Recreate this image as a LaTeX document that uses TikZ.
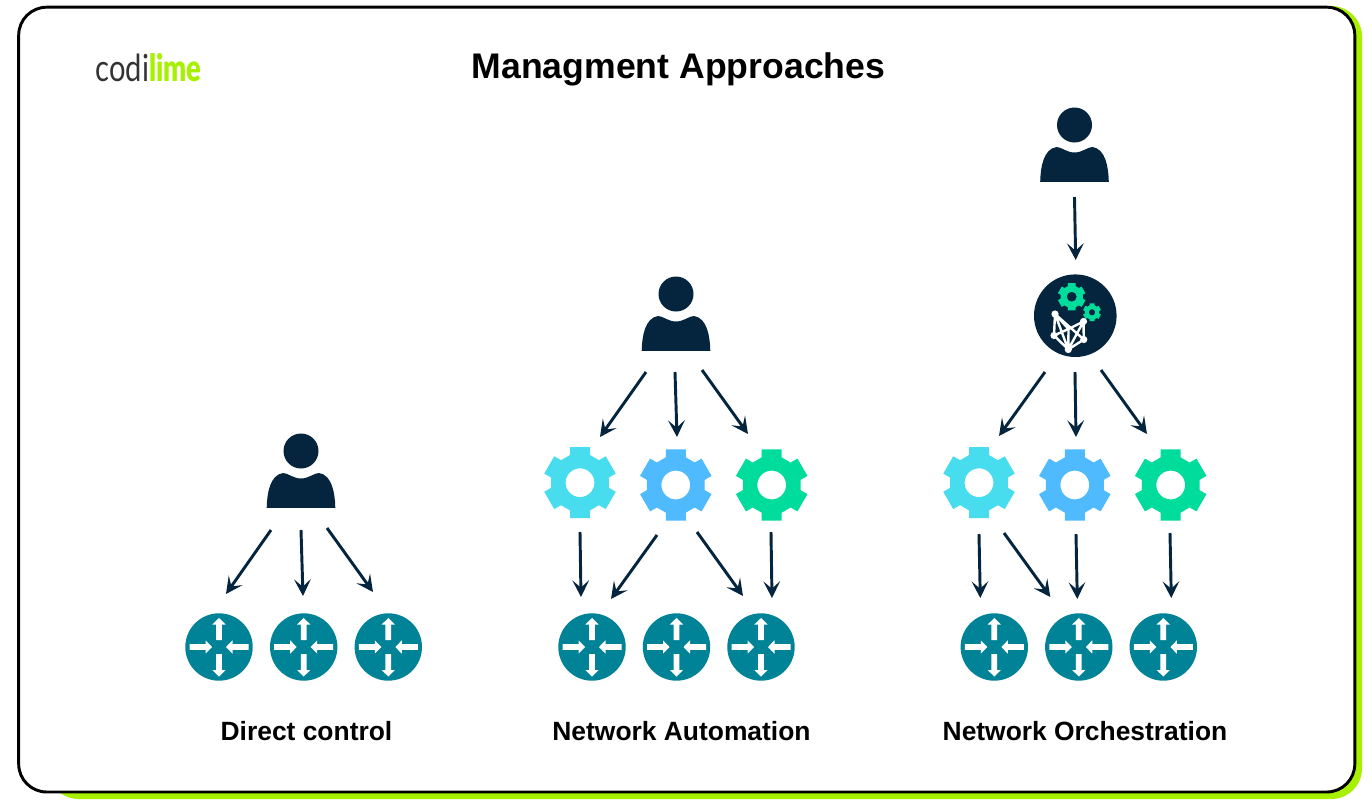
\documentclass[tikz,border=0pt]{standalone}
\usepackage{fontspec}
\setmainfont{Liberation Sans}
\newfontfamily\logofont{Lato}
\newfontfamily\logoheavy{Lato Black}
\usetikzlibrary{arrows.meta}
\definecolor{navy}{HTML}{05243D}
\definecolor{limeg}{HTML}{A6F000}
\definecolor{routerc}{HTML}{008396}
\definecolor{gearcyan}{HTML}{47DCEE}
\definecolor{gearblue}{HTML}{50BAFF}
\definecolor{geargreen}{HTML}{00DC9C}
\definecolor{logodark}{HTML}{333333}
\tikzset{
  conn/.style={draw=navy,line width=2.2pt,-{Stealth[length=12.5pt,width=12.5pt,inset=5.5pt]}},
  frame/.style={draw=black,line width=2.2pt,rounded corners=21pt,fill=white},
  shadowbox/.style={fill=limeg,rounded corners=23pt},
  heading/.style={font=\bfseries\fontsize{26.7}{30}\selectfont,inner sep=0pt,text=black},
  caption/.style={font=\bfseries\fontsize{19.8}{24}\selectfont,inner sep=0pt,text=black},
  meshline/.style={draw=white,line width=1.8pt},
  meshdot/.style={fill=white}
}
\newcommand{\gearshape}[6]{%
  \coordinate (#1) at (#2,#3);
  \fill[#4,even odd rule,shift={(#2,#3)}]
    (70.1:#5*29.4)
    \foreach \a in {90,150,210,270,330,390}{
      -- (\a-19.9:#5*29.4) -- (\a-15.7:#5*36.9) -- (\a+15.7:#5*36.9) -- (\a+19.9:#5*29.4)
    } -- cycle
    (0,0) circle (#6);
}
\newcommand{\personicon}[3]{%
  \coordinate (#1) at (#2,#3);
  \begin{scope}[shift={(#2,#3)}]
    \fill[navy] (0,0) circle (17.5);
    \fill[navy] (-34.3,56.9) .. controls (-34,42) and (-31,24) .. (-18,22)
      .. controls (-13,22) and (-8,27.5) .. (0,27.5)
      .. controls (8,27.5) and (13,22) .. (18,22)
      .. controls (31,24) and (34,42) .. (34.3,56.9) -- cycle;
  \end{scope}
}
\newcommand{\routericon}[3]{%
  \coordinate (#1) at (#2,#3);
  \begin{scope}[shift={(#2,#3)}]
    \fill[routerc] (0,0) circle (33.7);
    \foreach \r/\s/\t in {90/7/29,270/7/29.5,0/29.5/7,180/29.5/7}{
      \ifdim\s pt<\t pt
        \fill[white,rotate=\r] (\s,-2.9) -- (\t-6.5,-2.9) -- (\t-6.5,-6.6) -- (\t,0) -- (\t-6.5,6.6) -- (\t-6.5,2.9) -- (\s,2.9) -- cycle;
      \else
        \fill[white,rotate=\r] (\s,-2.9) -- (\t+6.5,-2.9) -- (\t+6.5,-6.6) -- (\t,0) -- (\t+6.5,6.6) -- (\t+6.5,2.9) -- (\s,2.9) -- cycle;
      \fi
    }
  \end{scope}
}
\newcommand{\conn}[6]{\draw[conn] ([shift={(#2,#3)}]#1) -- ([shift={(#5,#6)}]#4);}
\begin{document}
\begin{tikzpicture}[x=0.75pt,y=-0.75pt]
\useasboundingbox (0,0) rectangle (1372,800);
\fill[white] (0,0) rectangle (1372,800);
\fill[shadowbox] (48,6) rectangle (1362,799);
\draw[frame] (18.7,7.2) rectangle (1354.8,792);

% title and logo
\node[heading] (title) at (678.5,69) {Managment Approaches};
\node[inner sep=0pt,anchor=base west,text=logodark,font=\logofont\fontsize{28}{30}\selectfont] (logoa) at (95.5,81) {\scalebox{.78}[1]{codi}};
\node[inner sep=0pt,anchor=base west,text=limeg,font=\logoheavy\fontsize{28}{30}\selectfont] (logob) at (149,81) {\scalebox{.73}[1]{lime}};

% direct control
\personicon{pd}{301}{451}
\routericon{r1}{219}{647}
\routericon{r2}{303.7}{647}
\routericon{r3}{388.3}{647}
\conn{pd}{-30}{79}{r1}{7}{-53}
\conn{pd}{0}{79}{r2}{-0.7}{-51}
\conn{pd}{26}{77}{r3}{-15.3}{-55}
\node[caption] (capd) at (306.5,731) {Direct control};

% network automation
\personicon{pa}{676}{294}
\gearshape{ga1}{580}{482.7}{gearcyan}{1}{14.4}
\gearshape{ga2}{675.8}{485}{gearblue}{1}{14.4}
\gearshape{ga3}{771.7}{485}{geargreen}{1}{14.4}
\routericon{ra1}{592}{647}
\routericon{ra2}{676.5}{647}
\routericon{ra3}{761}{647}
\conn{pa}{-30}{78}{ga1}{20}{-45.7}
\conn{pa}{-1}{78}{ga2}{1.2}{-48}
\conn{pa}{26}{76}{ga3}{-23.7}{-51}
\conn{ga1}{0}{49.3}{ra1}{-11}{-50}
\conn{ga2}{-18.8}{50}{ra1}{19}{-48}
\conn{ga2}{21.2}{47}{ra3}{-18}{-51}
\conn{ga3}{-0.7}{47}{ra3}{11}{-49}
\node[caption] (capa) at (681.5,731) {Network Automation};

% network orchestration
\personicon{po}{1074.5}{125}
\coordinate (orc) at (1075.3,315.7);
\fill[navy] (orc) circle (41.3);
\gearshape{og1}{1071.7}{296.7}{geargreen}{0.385}{5}
\gearshape{og2}{1092}{312.3}{geargreen}{0.25}{3.2}
\coordinate (m1) at (1055,314);
\coordinate (m2) at (1083.5,321.5);
\coordinate (m3) at (1054,335.5);
\coordinate (m4) at (1083.8,339.5);
\coordinate (m5) at (1068.3,349.5);
\coordinate (m6) at (1068.5,329);
\draw[meshline] (m1) -- (m3) -- (m5) -- (m4) -- (m2) (m1) -- (m4) (m1) -- (m5) (m3) -- (m6) -- (m2) (m2) -- (m5) (m6) -- (m5) (m1) -- (m6);
\foreach \m in {m1,m2,m3,m4,m5}{\fill[meshdot] (\m) circle (3.6);}
\gearshape{go1}{979}{482.7}{gearcyan}{1}{14.4}
\gearshape{go2}{1074.8}{485}{gearblue}{1}{14.4}
\gearshape{go3}{1170.7}{485}{geargreen}{1}{14.4}
\routericon{ro1}{994.3}{647}
\routericon{ro2}{1078.8}{647}
\routericon{ro3}{1163.3}{647}
\conn{po}{0}{72}{orc}{0.4}{-55.7}
\conn{orc}{-30.3}{56.3}{go1}{20}{-46.7}
\conn{orc}{-0.3}{56.3}{go2}{1.2}{-48}
\conn{orc}{25.7}{54.3}{go3}{-23.7}{-51}
\conn{go1}{0}{51.3}{ro1}{-14}{-49}
\conn{go1}{25}{50.3}{ro2}{-28.5}{-50}
\conn{go2}{1.2}{49}{ro2}{-1.5}{-48}
\conn{go3}{-0.7}{48}{ro3}{8}{-49}
\node[caption] (capo) at (1085,731) {Network Orchestration};
\end{tikzpicture}
\end{document}
